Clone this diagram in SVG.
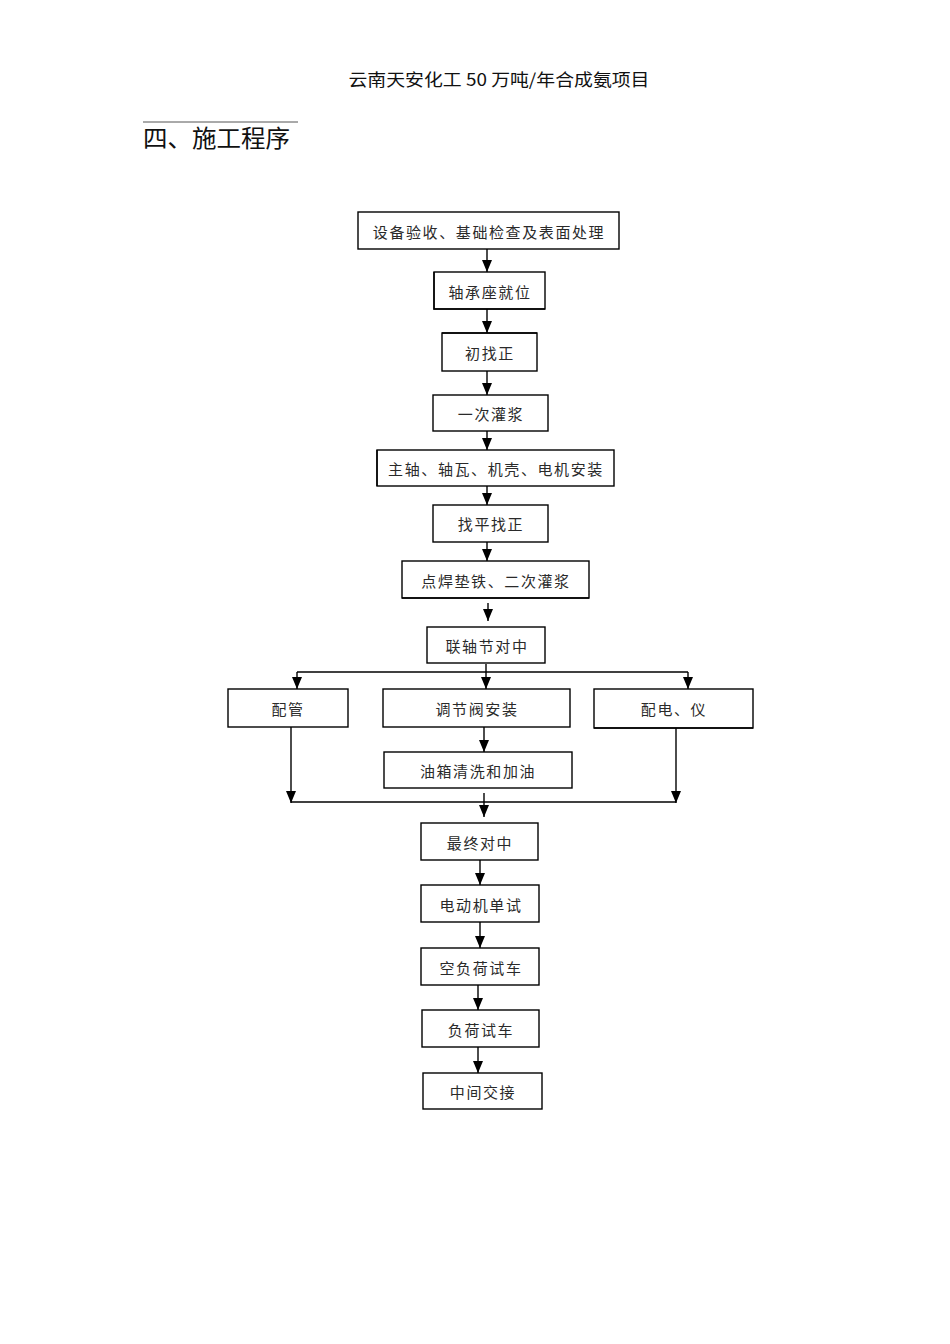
<svg xmlns="http://www.w3.org/2000/svg" width="950" height="1344" viewBox="0 0 950 1344">
<style>
.b{fill:#fff;stroke:#000;stroke-width:1.4}
.t{font-family:"Noto Sans CJK SC","Noto Sans",sans-serif;font-size:15px;letter-spacing:1.6px;fill:#2a2a2a;text-anchor:middle;dominant-baseline:central}
.c{stroke:#000;stroke-width:1.4;fill:none}
.h{font-family:"Noto Sans CJK SC","Liberation Serif",sans-serif;fill:#111}
</style>
<defs>
<marker id="ah" markerUnits="userSpaceOnUse" markerWidth="12" markerHeight="10" viewBox="0 0 12 10" refX="12" refY="5" orient="auto">
<path d="M0,0 L12,5 L0,10 Z" fill="#000"/>
</marker>
</defs>
<rect width="950" height="1344" fill="#fff"/>
<g id="header">
<text class="h" x="499" y="86" font-size="17" text-anchor="middle" textLength="301" lengthAdjust="spacingAndGlyphs">云南天安化工 50 万吨/年合成氨项目</text>
<line x1="143" y1="122" x2="298" y2="122" stroke="#555" stroke-width="1"/>
<text class="h" x="143" y="147" font-size="24" textLength="147" lengthAdjust="spacingAndGlyphs">四、施工程序</text>
</g>
<g id="connectors">
<path class="c" d="M487,249 V272" marker-end="url(#ah)"/>
<path class="c" d="M487,309 V333" marker-end="url(#ah)"/>
<path class="c" d="M487,371 V395" marker-end="url(#ah)"/>
<path class="c" d="M487,431 V450" marker-end="url(#ah)"/>
<path class="c" d="M487,486 V505" marker-end="url(#ah)"/>
<path class="c" d="M487,542 V561" marker-end="url(#ah)"/>
<path class="c" d="M488,603 V621" marker-end="url(#ah)"/>
<path class="c" d="M486,664 V689" marker-end="url(#ah)"/>
<path class="c" d="M297,672 H688"/>
<path class="c" d="M297,672 V689" marker-end="url(#ah)"/>
<path class="c" d="M688,672 V689" marker-end="url(#ah)"/>
<path class="c" d="M484,727 V752" marker-end="url(#ah)"/>
<path class="c" d="M291,727 V803" marker-end="url(#ah)"/>
<path class="c" d="M676,728 V803" marker-end="url(#ah)"/>
<path class="c" d="M291,802 H676"/>
<path class="c" d="M484,793 V817" marker-end="url(#ah)"/>
<path class="c" d="M480,860 V885" marker-end="url(#ah)"/>
<path class="c" d="M480,922 V948" marker-end="url(#ah)"/>
<path class="c" d="M478,985 V1010" marker-end="url(#ah)"/>
<path class="c" d="M478,1047 V1073" marker-end="url(#ah)"/>
</g>
<g id="n1"><rect class="b" x="358" y="212" width="261" height="37"/><text class="t" x="489" y="231">设备验收、基础检查及表面处理</text></g>
<g id="n2"><rect class="b" x="434" y="272" width="111" height="37"/><path d="M434,272 V309 H545" class="c" stroke-width="2"/><text class="t" x="490" y="291">轴承座就位</text></g>
<g id="n3"><rect class="b" x="442" y="333" width="95" height="38"/><path d="M442,333 H537" class="c" stroke-width="2"/><text class="t" x="490" y="352">初找正</text></g>
<g id="n4"><rect class="b" x="433" y="395" width="115" height="36"/><text class="t" x="491" y="413">一次灌浆</text></g>
<g id="n5"><rect class="b" x="377" y="450" width="237" height="36"/><path d="M377,450 V486" class="c" stroke-width="2"/><text class="t" x="496" y="468">主轴、轴瓦、机壳、电机安装</text></g>
<g id="n6"><rect class="b" x="433" y="505" width="115" height="37"/><text class="t" x="491" y="523">找平找正</text></g>
<g id="n7"><rect class="b" x="402" y="561" width="187" height="37"/><path d="M402,598 H589" class="c" stroke-width="2"/><text class="t" x="496" y="580">点焊垫铁、二次灌浆</text></g>
<g id="n8"><rect class="b" x="427" y="627" width="118" height="36"/><text class="t" x="487" y="645">联轴节对中</text></g>
<g id="n9"><rect class="b" x="228" y="689" width="120" height="38"/><text class="t" x="288" y="708">配管</text></g>
<g id="n10"><rect class="b" x="383" y="689" width="187" height="38"/><text class="t" x="477" y="708">调节阀安装</text></g>
<g id="n11"><rect class="b" x="594" y="689" width="159" height="39"/><path d="M594,728 H753" class="c" stroke-width="2"/><text class="t" x="674" y="708">配电、仪</text></g>
<g id="n12"><rect class="b" x="384" y="752" width="188" height="36"/><text class="t" x="478" y="770">油箱清洗和加油</text></g>
<g id="n13"><rect class="b" x="421" y="823" width="117" height="37"/><text class="t" x="480" y="842">最终对中</text></g>
<g id="n14"><rect class="b" x="421" y="885" width="118" height="37"/><text class="t" x="481" y="904">电动机单试</text></g>
<g id="n15"><rect class="b" x="421" y="948" width="118" height="37"/><text class="t" x="481" y="967">空负荷试车</text></g>
<g id="n16"><rect class="b" x="422" y="1010" width="117" height="37"/><text class="t" x="481" y="1029">负荷试车</text></g>
<g id="n17"><rect class="b" x="423" y="1073" width="119" height="36"/><text class="t" x="483" y="1091">中间交接</text></g>
</svg>
